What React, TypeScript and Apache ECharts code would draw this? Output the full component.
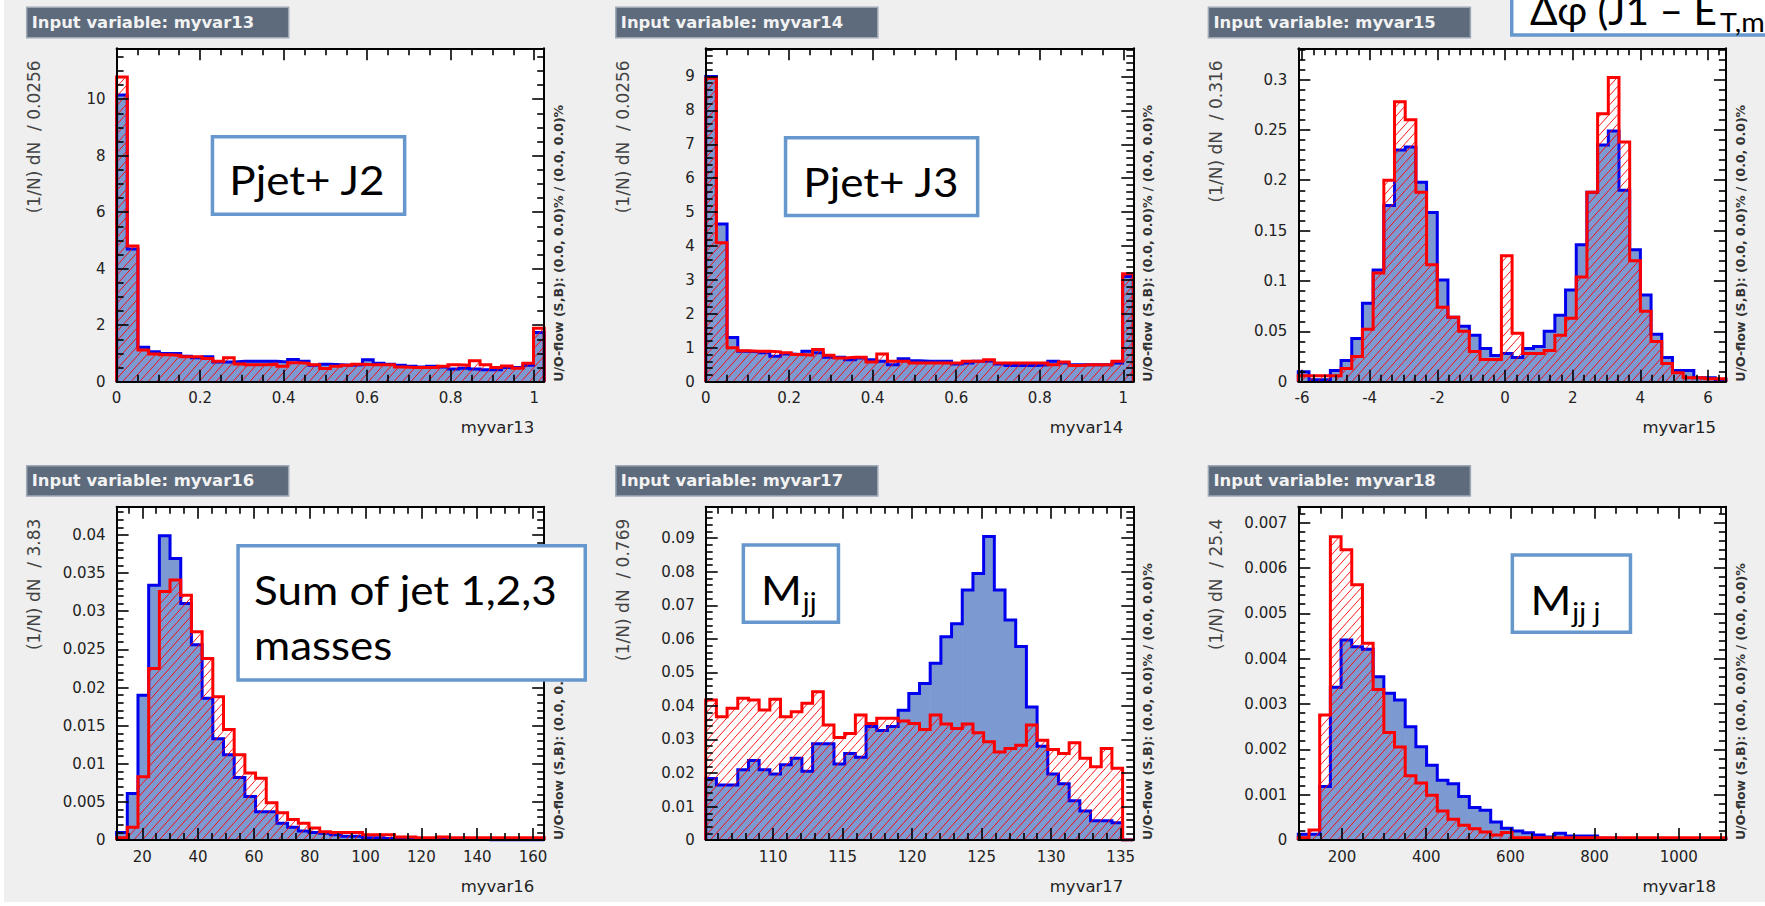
import React, { useEffect, useRef } from "react";
import * as echarts from "echarts";

// ---------------- histogram contents (40 bins each) ----------------
// myvar13
const var13Signal = [10.15, 4.7, 1.22, 1.06, 1.0, 1.0, 0.9, 0.85, 0.88, 0.7, 0.7, 0.72, 0.72, 0.72, 0.72, 0.7, 0.79, 0.72, 0.58, 0.62, 0.6, 0.58, 0.6, 0.78, 0.65, 0.62, 0.58, 0.55, 0.52, 0.55, 0.52, 0.45, 0.48, 0.45, 0.42, 0.42, 0.5, 0.5, 0.58, 1.74];
const var13Background = [10.78, 4.8, 1.12, 0.98, 0.95, 0.93, 0.88, 0.88, 0.82, 0.72, 0.85, 0.63, 0.6, 0.6, 0.62, 0.55, 0.67, 0.65, 0.6, 0.47, 0.55, 0.58, 0.62, 0.6, 0.6, 0.6, 0.52, 0.5, 0.5, 0.5, 0.55, 0.6, 0.58, 0.74, 0.6, 0.5, 0.56, 0.48, 0.65, 1.89];
// myvar14
const var14Signal = [9.0, 4.65, 1.3, 0.9, 0.88, 0.85, 0.75, 0.82, 0.8, 0.9, 0.85, 0.72, 0.72, 0.65, 0.7, 0.65, 0.6, 0.5, 0.68, 0.62, 0.6, 0.6, 0.6, 0.52, 0.55, 0.6, 0.62, 0.52, 0.48, 0.48, 0.48, 0.5, 0.6, 0.55, 0.5, 0.5, 0.5, 0.5, 0.55, 3.1];
const var14Background = [8.95, 4.1, 1.0, 0.91, 0.9, 0.9, 0.88, 0.85, 0.8, 0.78, 0.95, 0.78, 0.7, 0.72, 0.72, 0.58, 0.82, 0.6, 0.6, 0.55, 0.55, 0.55, 0.55, 0.55, 0.6, 0.6, 0.65, 0.55, 0.55, 0.55, 0.55, 0.55, 0.5, 0.58, 0.48, 0.5, 0.5, 0.5, 0.6, 3.18];
// myvar15
const var15Signal = [0.01, 0.002, 0.002, 0.011, 0.021, 0.043, 0.078, 0.111, 0.175, 0.23, 0.233, 0.198, 0.168, 0.101, 0.064, 0.055, 0.046, 0.033, 0.026, 0.028, 0.024, 0.033, 0.035, 0.05, 0.066, 0.091, 0.136, 0.188, 0.235, 0.249, 0.19, 0.131, 0.086, 0.047, 0.024, 0.011, 0.011, 0.004, 0.004, 0.002];
const var15Background = [0.006, 0.006, 0.006, 0.006, 0.013, 0.025, 0.052, 0.108, 0.2, 0.278, 0.26, 0.188, 0.116, 0.074, 0.064, 0.05, 0.03, 0.022, 0.022, 0.125, 0.048, 0.028, 0.028, 0.031, 0.046, 0.063, 0.104, 0.188, 0.266, 0.302, 0.238, 0.12, 0.07, 0.04, 0.018, 0.009, 0.004, 0.004, 0.003, 0.003];
// myvar16
const var16Signal = [0.001, 0.0061, 0.019, 0.0334, 0.0399, 0.0369, 0.031, 0.0256, 0.0186, 0.0133, 0.0112, 0.0082, 0.0057, 0.0037, 0.0037, 0.0022, 0.0017, 0.0012, 0.001, 0.0009, 0.0007, 0.0005, 0.0005, 0.0003, 0.0003, 0.0002, 0.0002, 0.0002, 0.0001, 0.0001, 0.0001, 0.0001, 0.0001, 0.0001, 0.0001, 0, 0, 0, 0, 0];
const var16Background = [0.0003, 0.0017, 0.0083, 0.0225, 0.0326, 0.0341, 0.0321, 0.0273, 0.0238, 0.0188, 0.0145, 0.0112, 0.0088, 0.0081, 0.0049, 0.0036, 0.0027, 0.0022, 0.0016, 0.0011, 0.001, 0.001, 0.001, 0.0007, 0.0007, 0.0007, 0.0004, 0.0004, 0.0003, 0.0003, 0.0004, 0.0003, 0.0003, 0.0003, 0.0003, 0.0003, 0.0003, 0.0003, 0.0003, 0.0003];
// myvar17
const var17Signal = [0.0184, 0.0164, 0.0164, 0.021, 0.0237, 0.021, 0.0197, 0.0225, 0.0244, 0.0205, 0.0287, 0.0287, 0.0227, 0.0258, 0.0247, 0.0339, 0.0327, 0.0339, 0.0387, 0.0437, 0.0467, 0.0527, 0.0606, 0.0645, 0.0746, 0.0795, 0.0905, 0.0746, 0.0656, 0.0577, 0.0397, 0.028, 0.0197, 0.0168, 0.0117, 0.0087, 0.0058, 0.0058, 0.0052, 0];
const var17Background = [0.0418, 0.0368, 0.0393, 0.0423, 0.0418, 0.0388, 0.042, 0.0368, 0.0383, 0.0408, 0.0442, 0.0343, 0.0306, 0.0318, 0.0373, 0.0348, 0.0363, 0.0363, 0.0355, 0.0348, 0.033, 0.0373, 0.0346, 0.0333, 0.0346, 0.032, 0.0293, 0.0263, 0.0273, 0.0283, 0.0343, 0.0298, 0.027, 0.0258, 0.029, 0.0244, 0.0219, 0.0273, 0.0214, 0];
// myvar18
const var18Signal = [0.00013, 0.00013, 0.00118, 0.00337, 0.00441, 0.00426, 0.00421, 0.0036, 0.00324, 0.00309, 0.0025, 0.00206, 0.00165, 0.00132, 0.00124, 0.00096, 0.00072, 0.00066, 0.0004, 0.00026, 0.0002, 0.00016, 0.00011, 0.00007, 0.00015, 0.00009, 0.00009, 0.00009, 0.00004, 0.00004, 0.00002, 0.00002, 0.00002, 0.00002, 0.00002, 0.00002, 0.00002, 0.00002, 0.00002, 0.00002];
const var18Background = [0.00005, 0.00022, 0.00276, 0.00669, 0.0064, 0.00563, 0.00434, 0.00332, 0.00237, 0.00205, 0.00142, 0.00126, 0.00099, 0.00064, 0.00046, 0.00033, 0.00025, 0.00018, 0.00011, 0.00017, 0.00005, 0.00005, 0.00005, 0.00005, 0.00005, 0.00005, 0.00005, 0.00005, 0.00005, 0.00005, 0.00005, 0.00005, 0.00005, 0.00005, 0.00005, 0.00005, 0.00005, 0.00005, 0.00005, 0.00005];

// ---------------- axis ticks ----------------
const var13XTicks = [0, 0.2, 0.4, 0.6, 0.8, 1];
const var13YTicks = [0, 2, 4, 6, 8, 10];
const var14XTicks = [0, 0.2, 0.4, 0.6, 0.8, 1];
const var14YTicks = [0, 1, 2, 3, 4, 5, 6, 7, 8, 9];
const var15XTicks = [-6, -4, -2, 0, 2, 4, 6];
const var15YTicks = [0, 0.05, 0.1, 0.15, 0.2, 0.25, 0.3];
const var16XTicks = [20, 40, 60, 80, 100, 120, 140, 160];
const var16YTicks = [0, 0.005, 0.01, 0.015, 0.02, 0.025, 0.03, 0.035, 0.04];
const var17XTicks = [110, 115, 120, 125, 130, 135];
const var17YTicks = [0, 0.01, 0.02, 0.03, 0.04, 0.05, 0.06, 0.07, 0.08, 0.09];
const var18XTicks = [200, 400, 600, 800, 1000];
const var18YTicks = [0, 0.001, 0.002, 0.003, 0.004, 0.005, 0.006, 0.007];

const NBINS = 40;

const panels = [
  { name: "myvar13", binLabel: "0.0256", xMin: 0, binW: 0.0256, yMax: 11.8, sig: var13Signal, bkg: var13Background, xTicks: var13XTicks, yTicks: var13YTicks, xMinor: 0.05, yMinor: 0.5 },
  { name: "myvar14", binLabel: "0.0256", xMin: 0, binW: 0.0256, yMax: 9.83, sig: var14Signal, bkg: var14Background, xTicks: var14XTicks, yTicks: var14YTicks, xMinor: 0.05, yMinor: 0.2 },
  { name: "myvar15", binLabel: "0.316", xMin: -6.11, binW: 0.316, yMax: 0.331, sig: var15Signal, bkg: var15Background, xTicks: var15XTicks, yTicks: var15YTicks, xMinor: 1 / 3, yMinor: 0.01 },
  { name: "myvar16", binLabel: "3.83", xMin: 10.8, binW: 3.83, yMax: 0.0437, sig: var16Signal, bkg: var16Background, xTicks: var16XTicks, yTicks: var16YTicks, xMinor: 5, yMinor: 0.001 },
  { name: "myvar17", binLabel: "0.769", xMin: 105.15, binW: 0.769, yMax: 0.0994, sig: var17Signal, bkg: var17Background, xTicks: var17XTicks, yTicks: var17YTicks, xMinor: 1, yMinor: 0.002 },
  { name: "myvar18", binLabel: "25.4", xMin: 96, binW: 25.4, yMax: 0.00735, sig: var18Signal, bkg: var18Background, xTicks: var18XTicks, yTicks: var18YTicks, xMinor: 50, yMinor: 0.0002 },
];

// ---------------- layout ----------------
const W = 1765;
const H = 906;
const FRAME_LEFT = [116.6, 705.7, 1298.3];
const FRAME_TOP = [48.3, 506.7];
const FRAME_W = 427.6;
const FRAME_H = 333.4;

const ROOT_FONT = '"DejaVu Sans", "Liberation Sans", sans-serif';
const SLIDE_FONT = 'Lato, "Open Sans", sans-serif';
const SIG_FILL = "#7d99d1";
const SIG_LINE = "#0000ee";
const BKG_LINE = "#ff0000";
const BOX_LINE = "#6697cd";

const HATCH_ANGLE = (48 * Math.PI) / 180;
const HATCH_GAP = 6.3;

function minorTicks(min: number, max: number, step: number, majors: number[]) {
  const out: number[] = [];
  const k0 = Math.ceil(min / step - 1e-9);
  const k1 = Math.floor(max / step + 1e-9);
  for (let k = k0; k <= k1; k++) {
    const v = +(k * step).toFixed(10);
    if (majors.some((m) => Math.abs(m - v) < step * 0.05)) continue;
    out.push(v);
  }
  return out;
}

const fmt = (v: number) => String(parseFloat(Number(v).toFixed(6)));

function measure(text: string, font: string) {
  const ctx = document.createElement("canvas").getContext("2d")!;
  ctx.font = font;
  return ctx.measureText(text).width;
}

function buildOption() {
  const grids: any[] = [];
  const xAxes: any[] = [];
  const yAxes: any[] = [];
  const series: any[] = [];
  const graphics: any[] = [];

  // page background (gray canvas, thin white slide margins)
  graphics.push({ type: "rect", z: -100, silent: true, shape: { x: 0, y: 0, width: W, height: H }, style: { fill: "#efefef" } });
  graphics.push({ type: "rect", z: -99, silent: true, shape: { x: 0, y: 0, width: 4, height: H }, style: { fill: "#ffffff" } });
  graphics.push({ type: "rect", z: -99, silent: true, shape: { x: 0, y: 902, width: W, height: 4 }, style: { fill: "#ffffff" } });

  const yTitleSample = "(1/N) dN  / 0.0256";
  const yTitleSize = Math.min(18, 153 / (measure(yTitleSample, `100px ${ROOT_FONT}`) / 100));
  const flowText = "U/O-flow (S,B): (0.0, 0.0)% / (0.0, 0.0)%";
  const flowSize = Math.min(15, 277 / (measure(flowText, `bold 100px ${ROOT_FONT}`) / 100));

  const labelStyle = { fontFamily: ROOT_FONT, fontSize: 15, color: "#222" };

  panels.forEach((p, i) => {
    const col = i % 3;
    const row = Math.floor(i / 3);
    const left = FRAME_LEFT[col];
    const top = FRAME_TOP[row];
    const xMax = p.xMin + NBINS * p.binW;
    const edges = Array.from({ length: NBINS + 1 }, (_, k) => p.xMin + k * p.binW);

    grids.push({ left, top, width: FRAME_W, height: FRAME_H, show: true, backgroundColor: "#ffffff", borderWidth: 0, outerBoundsMode: "none", containLabel: false });

    const xMinorVals = minorTicks(p.xMin, xMax, p.xMinor, p.xTicks);
    const yMinorVals = minorTicks(0, p.yMax, p.yMinor, p.yTicks);

    const mkX = (position: string, major: boolean) => ({
      type: "value", gridIndex: i, position, min: p.xMin, max: xMax, z: 8,
      axisLine: { show: major, onZero: false, lineStyle: { color: "#000", width: 2 } },
      axisTick: { show: true, inside: true, length: major ? 12 : 7, customValues: major ? p.xTicks : xMinorVals, lineStyle: { color: "#000", width: 1.6 } },
      axisLabel: position === "bottom" && major
        ? { show: true, customValues: p.xTicks, formatter: fmt, margin: 9, ...labelStyle }
        : { show: false },
      splitLine: { show: false },
    });
    const mkY = (position: string, major: boolean) => ({
      type: "value", gridIndex: i, position, min: 0, max: p.yMax, z: 8,
      axisLine: { show: major, onZero: false, lineStyle: { color: "#000", width: 2 } },
      axisTick: { show: true, inside: true, length: major ? 12 : 7, customValues: major ? p.yTicks : yMinorVals, lineStyle: { color: "#000", width: 1.6 } },
      axisLabel: position === "left" && major
        ? { show: true, customValues: p.yTicks, formatter: fmt, margin: 11, ...labelStyle }
        : { show: false },
      splitLine: { show: false },
    });
    const axBase = xAxes.length;
    xAxes.push(mkX("bottom", true), mkX("bottom", false), mkX("top", true), mkX("top", false));
    yAxes.push(mkY("left", true), mkY("left", false), mkY("right", true), mkY("right", false));

    const binsOf = (vals: number[]) => vals.map((v, k) => [edges[k], edges[k + 1], v]);
    const stepOf = (vals: number[]) => {
      const pts: number[][] = [[edges[0], 0]];
      vals.forEach((v, k) => {
        pts.push([edges[k], v]);
        pts.push([edges[k + 1], v]);
      });
      pts.push([edges[NBINS], 0]);
      return pts;
    };

    // signal: solid fill
    series.push({
      type: "custom", name: `${p.name} signal fill`, xAxisIndex: axBase, yAxisIndex: axBase, z: 2, silent: true, clip: true,
      data: binsOf(p.sig), encode: { x: [0, 1], y: 2 },
      renderItem: (_: any, api: any) => {
        const a = api.coord([api.value(0), 0]);
        const b = api.coord([api.value(1), api.value(2)]);
        return { type: "rect", shape: { x: a[0], y: b[1], width: b[0] - a[0] + 0.6, height: a[1] - b[1] }, style: { fill: SIG_FILL } };
      },
    });
    // signal outline
    series.push({
      type: "line", name: `${p.name} signal`, xAxisIndex: axBase, yAxisIndex: axBase, z: 3, silent: true, clip: true,
      data: stepOf(p.sig), symbol: "none", showSymbol: false,
      lineStyle: { color: SIG_LINE, width: 3, join: "miter", cap: "butt" },
    });
    // background: diagonal hatching
    const s = Math.sin(HATCH_ANGLE);
    const c = Math.cos(HATCH_ANGLE);
    series.push({
      type: "custom", name: `${p.name} background hatch`, xAxisIndex: axBase, yAxisIndex: axBase, z: 4, silent: true, clip: true,
      data: binsOf(p.bkg), encode: { x: [0, 1], y: 2 },
      renderItem: (_: any, api: any) => {
        const a = api.coord([api.value(0), 0]);
        const b = api.coord([api.value(1), api.value(2)]);
        const x0 = a[0], x1 = b[0], y0 = b[1], y1 = a[1];
        const children: any[] = [];
        if (y1 - y0 > 0.5) {
          const cMin = x0 * s + y0 * c;
          const cMax = x1 * s + y1 * c;
          for (let k = Math.ceil(cMin / HATCH_GAP); k * HATCH_GAP <= cMax; k++) {
            const cc = k * HATCH_GAP;
            const xa = Math.max(x0, (cc - y1 * c) / s);
            const xb = Math.min(x1, (cc - y0 * c) / s);
            if (xb - xa > 0.05) {
              children.push({
                type: "line",
                shape: { x1: xa, y1: (cc - xa * s) / c, x2: xb, y2: (cc - xb * s) / c },
                style: { stroke: BKG_LINE, lineWidth: 1, opacity: 0.9 },
              });
            }
          }
        }
        return { type: "group", children };
      },
    });
    // background outline
    series.push({
      type: "line", name: `${p.name} background`, xAxisIndex: axBase, yAxisIndex: axBase, z: 5, silent: true, clip: true,
      data: stepOf(p.bkg), symbol: "none", showSymbol: false,
      lineStyle: { color: BKG_LINE, width: 3, join: "miter", cap: "butt" },
    });

    // title bar
    graphics.push({
      type: "rect", z: 20, silent: true,
      shape: { x: left - 89.9, y: top - 41, width: 262, height: 30.4 },
      style: { fill: "#5d6b7d", stroke: "#9ea8b6", lineWidth: 1.5 },
    });
    graphics.push({
      type: "text", z: 21, silent: true, x: left - 84.9, y: top - 25.8,
      style: { text: `Input variable: ${p.name}`, x: 0, y: 0, fill: "#f2f2f2", font: `bold 16.4px ${ROOT_FONT}`, align: "left", verticalAlign: "middle", textAlign: "left", textVerticalAlign: "middle" },
    });
    // y axis title
    graphics.push({
      type: "text", z: 21, silent: true, x: left - 82.5, y: top + 12, rotation: Math.PI / 2,
      style: { text: `(1/N) dN  / ${p.binLabel}`, x: 0, y: 0, fill: "#444", font: `${yTitleSize.toFixed(2)}px ${ROOT_FONT}`, align: "right", verticalAlign: "middle", textAlign: "right", textVerticalAlign: "middle" },
    });
    // under/overflow note
    graphics.push({
      type: "text", z: 21, silent: true, x: left + 442, y: top + FRAME_H, rotation: Math.PI / 2,
      style: { text: flowText, x: 0, y: 0, fill: "#333", font: `bold ${flowSize.toFixed(2)}px ${ROOT_FONT}`, align: "left", verticalAlign: "middle", textAlign: "left", textVerticalAlign: "middle" },
    });
    // x axis title
    graphics.push({
      type: "text", z: 21, silent: true, x: left + FRAME_W - 10, y: top + FRAME_H + 46,
      style: { text: p.name, x: 0, y: 0, fill: "#222", font: `16.5px ${ROOT_FONT}`, align: "right", verticalAlign: "middle", textAlign: "right", textVerticalAlign: "middle" },
    });
  });

  // ---------------- slide annotations ----------------
  const BIG = 40;
  const SUB = 26;
  const WIDEN = 1.1;
  const bigFont = `${BIG}px ${SLIDE_FONT}`;
  const mid = (baseline: number, size: number) => baseline - 0.33 * size;

  const box = (x0: number, y0: number, x1: number, y1: number) => ({
    type: "rect", z: 30, silent: true,
    shape: { x: x0 + 1.75, y: y0 + 1.75, width: x1 - x0 - 3.5, height: y1 - y0 - 3.5 },
    style: { fill: "#ffffff", stroke: BOX_LINE, lineWidth: 3.5 },
  });
  const txt = (text: string, x: number, baseline: number, size: number, align = "left", scaleX = WIDEN) => ({
    type: "text", z: 31, silent: true, x, y: mid(baseline, size), scaleX,
    style: { text, x: 0, y: 0, fill: "#000", font: `${size}px ${SLIDE_FONT}`, align, verticalAlign: "middle", textAlign: align, textVerticalAlign: "middle" },
  });

  graphics.push(box(210.7, 135, 406.4, 216));
  graphics.push(txt("Pjet+ J2", 307, 193.3, BIG, "center"));

  graphics.push(box(783.8, 136, 979.4, 217.3));
  graphics.push(txt("Pjet+ J3", 881, 194.5, BIG, "center"));

  // Δφ box runs off the top and right edge of the slide
  graphics.push(box(1510, -20, 1800, 36.7));
  const dphiMain = "Δφ (J1 – E";
  const dphiX = 1530;
  const dphiScale = 187 / measure(dphiMain, bigFont);
  graphics.push(txt(dphiMain, dphiX, 23.3, BIG, "left", dphiScale));
  graphics.push(txt("T,miss", dphiX + 190, 31, SUB));

  graphics.push(box(236.3, 544, 587, 681.7));
  graphics.push(txt("Sum of jet 1,2,3", 254, 602.7, BIG));
  graphics.push(txt("masses", 254, 658.3, BIG));

  const mW = measure("M", bigFont) * WIDEN;
  graphics.push(box(741.6, 543.3, 840.2, 624));
  graphics.push(txt("M", 761, 602.7, BIG));
  graphics.push(txt("jj", 761 + mW + 1, 611, SUB));

  graphics.push(box(1510.6, 553.3, 1632.2, 634));
  graphics.push(txt("M", 1530.5, 612.7, BIG));
  graphics.push(txt("jj j", 1530.5 + mW + 1, 621, SUB));

  return {
    animation: false,
    backgroundColor: "#efefef",
    textStyle: { fontFamily: ROOT_FONT },
    grid: grids,
    xAxis: xAxes,
    yAxis: yAxes,
    series,
    graphic: { elements: graphics },
  };
}

export default function App() {
  const ref = useRef<HTMLDivElement>(null);
  useEffect(() => {
    if (!ref.current) return;
    const chart = echarts.init(ref.current, undefined, { renderer: "svg", width: W, height: H });
    chart.setOption(buildOption() as any);
    return () => chart.dispose();
  }, []);
  return <div ref={ref} style={{ position: "absolute", left: 0, top: 0, width: W, height: H }} />;
}
